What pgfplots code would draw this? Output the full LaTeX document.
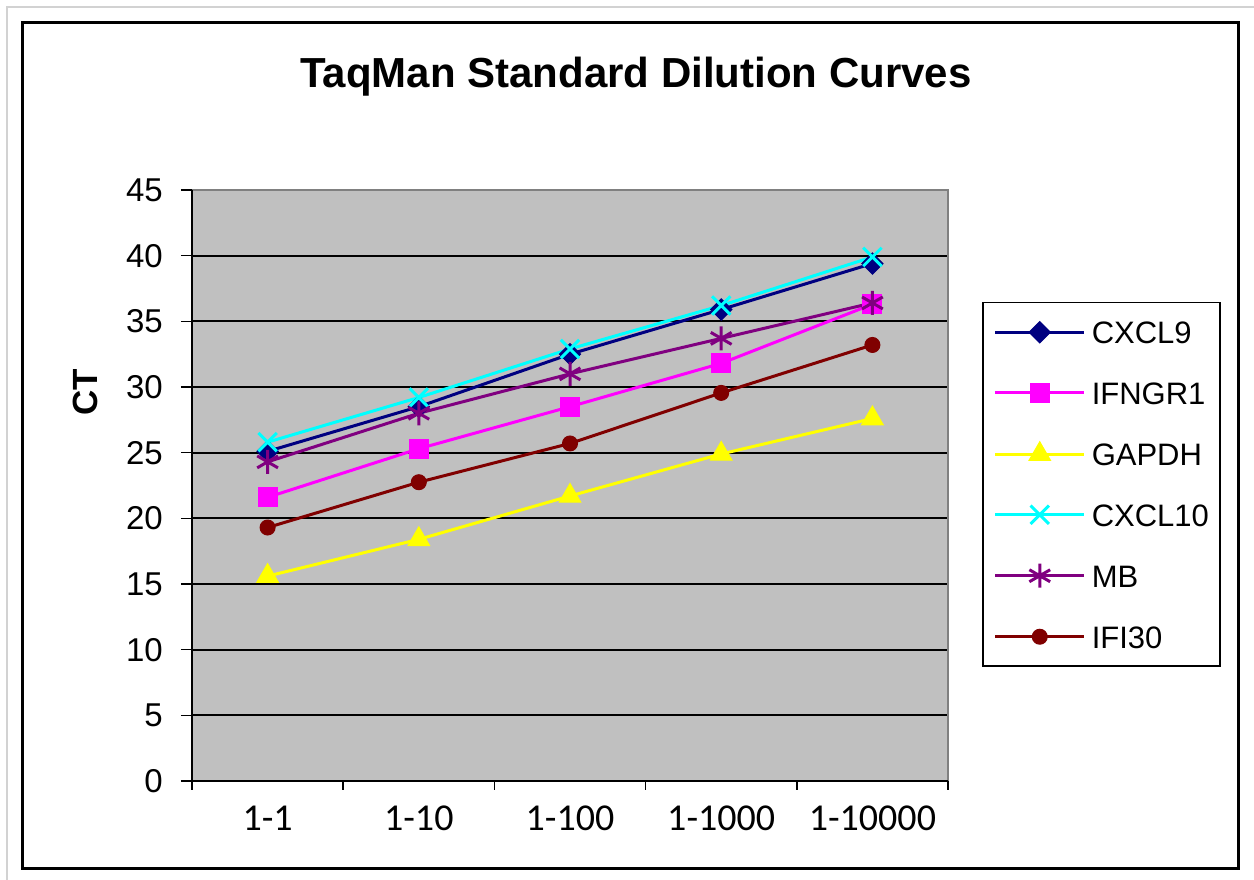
\documentclass[border=0pt]{standalone}
\usepackage{fontspec}
\setmainfont{Liberation Sans}
\newfontfamily\calib{Carlito}
\usepackage{pgfplots}
\pgfplotsset{compat=1.18}
\definecolor{plotgray}{RGB}{192,192,192}
\definecolor{cxclnine}{RGB}{0,0,128}
\definecolor{ifngr}{RGB}{255,0,255}
\definecolor{gapdh}{RGB}{255,255,0}
\definecolor{cxclten}{RGB}{0,255,255}
\definecolor{mbc}{RGB}{128,0,128}
\definecolor{ifi}{RGB}{128,0,0}
\begin{document}
\begin{tikzpicture}[x=1pt,y=1pt]
\useasboundingbox (0,0) rectangle (1254,880);
\draw[line width=2pt, color={rgb,255:red,210;green,210;blue,210}] (7,0) -- (7,873) -- (1254,873);
\draw[line width=3pt, black] (22.7,11) rectangle (1238,857);
\node[anchor=base, font=\fontsize{42pt}{46pt}\selectfont\bfseries] at (636,792) {TaqMan Standard Dilution Curves};
\node[anchor=base, rotate=90, font=\fontsize{35pt}{38pt}\selectfont\bfseries] at (97,488) {CT};
\begin{axis}[
  at={(192pt,99pt)}, anchor=south west,
  scale only axis, width=756pt, height=591pt,
  xmin=-0.5, xmax=4.5, ymin=0, ymax=45,
  axis background/.style={fill=plotgray},
  axis line style={draw=none},
  ytick={0,5,...,45},
  xtick={0,1,2,3,4},
  xticklabels={1-1,1-10,1-100,1-1000,1-10000},
  minor xtick={-0.5,0.5,1.5,2.5,3.5,4.5},
  tick pos=left, tick align=outside,
  major tick length=11pt, minor tick length=9pt,
  major x tick style={draw=none},
  minor x tick style={black, line width=1.5pt},
  major y tick style={black, line width=1.5pt},
  ymajorgrids, xmajorgrids=false,
  major grid style={black, line width=2pt},
  /pgf/number format/assume math mode=true,
  yticklabel style={font=\fontsize{33pt}{36pt}\selectfont, anchor=east, inner sep=0pt, xshift=-18pt},
  xticklabel style={font=\calib\fontsize{38pt}{40pt}\selectfont, anchor=base, inner sep=0pt, yshift=-39pt},
  legend style={at={(rel axis cs:1.045,0.8105)}, anchor=north west, draw=black, line width=1.5pt,
    fill=white, inner xsep=11pt, inner ysep=18pt, row sep=37.5pt,
    font=\fontsize{31pt}{33pt}\selectfont,
    nodes={inner sep=0pt, text height=23pt, text depth=0pt}},
  legend cell align=left,
  legend image code/.code={%
    \draw[mark repeat=2,mark phase=2] plot coordinates {(0pt,0pt) (44.5pt,0pt) (89pt,0pt)};
    \node[inner sep=0pt, minimum width=95pt] {};},
  every axis plot/.append style={line width=3pt},
  clip=false,
]
\draw[color={rgb,255:red,128;green,128;blue,128}, line width=2pt] (rel axis cs:0,1) -- (rel axis cs:1,1) -- (rel axis cs:1,0);
\addplot[color=cxclnine, mark=square*, mark size=7.5pt, mark options={rotate=45, line width=1pt}] coordinates {(0,25.1) (1,28.5) (2,32.5) (3,35.9) (4,39.4)};
\addlegendentry{CXCL9}
\addplot[color=ifngr, mark=square*, mark size=9.5pt, mark options={line width=1pt}] coordinates {(0,21.6) (1,25.3) (2,28.5) (3,31.8) (4,36.3)};
\addlegendentry{IFNGR1}
\addplot[color=gapdh, mark=triangle*, mark size=12.5pt, mark options={line width=1pt}] coordinates {(0,15.6) (1,18.4) (2,21.7) (3,24.9) (4,27.6)};
\addlegendentry{GAPDH}
\addplot[color=cxclten, mark=x, mark size=13pt, mark options={line width=3pt}] coordinates {(0,25.8) (1,29.2) (2,32.9) (3,36.2) (4,39.9)};
\addlegendentry{CXCL10}
\addplot[color=mbc, mark=asterisk, mark size=12pt, mark options={line width=3pt}] coordinates {(0,24.3) (1,28.0) (2,31.0) (3,33.7) (4,36.4)};
\addlegendentry{MB}
\addplot[color=ifi, mark=*, mark size=7.5pt, mark options={line width=1pt}] coordinates {(0,19.3) (1,22.75) (2,25.7) (3,29.55) (4,33.2)};
\addlegendentry{IFI30}
\draw[black, line width=2.5pt] (rel axis cs:0,1) -- (rel axis cs:0,0) -- (rel axis cs:1,0);
\end{axis}
\end{tikzpicture}
\end{document}
